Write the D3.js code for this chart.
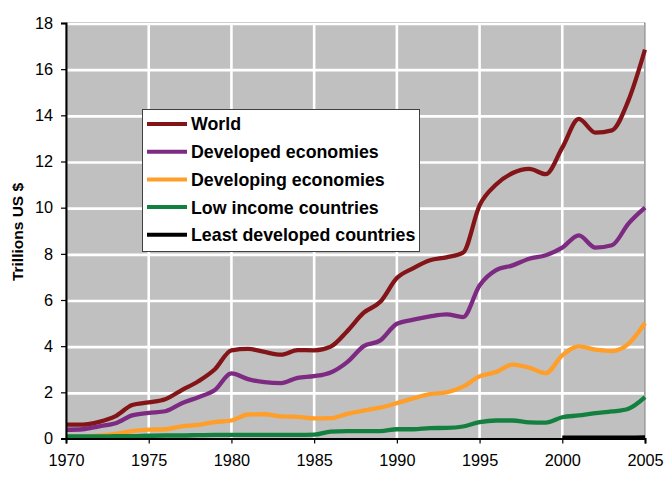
<!DOCTYPE html>
<html>
<head>
<meta charset="utf-8">
<script src="https://cdn.jsdelivr.net/npm/d3@7"></script>
<style>
  html, body { margin: 0; padding: 0; background: #ffffff; }
  svg { display: block; }
  text { font-family: Arial, "Liberation Sans", sans-serif; }
</style>
</head>
<body>
<svg id="chart" width="666" height="489"></svg>
<script>
// ---- Data ----
const years = [1970,1971,1972,1973,1974,1975,1976,1977,1978,1979,
               1980,1981,1982,1983,1984,1985,1986,1987,1988,1989,
               1990,1991,1992,1993,1994,1995,1996,1997,1998,1999,
               2000,2001,2002,2003,2004,2005];

const world = [0.60,0.60,0.72,0.97,1.45,1.57,1.70,2.10,2.48,3.00,
               3.82,3.88,3.75,3.63,3.83,3.82,3.98,4.65,5.45,5.92,
               6.95,7.38,7.72,7.85,8.05,10.10,11.00,11.50,11.68,11.45,
               12.60,13.85,13.25,13.35,14.65,16.85];

const developed = [0.38,0.40,0.53,0.66,1.00,1.11,1.18,1.53,1.79,2.10,
                   2.82,2.57,2.44,2.40,2.63,2.70,2.86,3.31,4.00,4.25,
                   4.97,5.15,5.29,5.38,5.26,6.63,7.29,7.50,7.79,7.94,
                   8.27,8.80,8.27,8.37,9.31,10.00];

const developing = [0.07,0.08,0.12,0.20,0.32,0.38,0.40,0.53,0.59,0.71,
                    0.78,1.04,1.05,0.96,0.94,0.87,0.88,1.07,1.21,1.34,
                    1.53,1.74,1.92,2.00,2.25,2.69,2.88,3.20,3.07,2.83,
                    3.60,3.99,3.85,3.79,4.10,5.00];

const lowIncome = [0.09,0.09,0.09,0.10,0.10,0.12,0.13,0.13,0.15,0.16,
                   0.16,0.16,0.16,0.16,0.16,0.17,0.30,0.32,0.32,0.32,
                   0.40,0.40,0.45,0.46,0.52,0.71,0.78,0.78,0.70,0.69,
                   0.92,1.00,1.10,1.17,1.29,1.79];

const leastDeveloped = [null,null,null,null,null,null,null,null,null,null,
                        null,null,null,null,null,null,null,null,null,null,
                        null,null,null,null,null,null,null,null,null,null,
                        0.04,0.04,0.04,0.04,0.04,0.05];

const seriesNames = ["World","Developed economies","Developing economies","Low income countries","Least developed countries"];
const seriesColors = ["#831417","#7D2A82","#FF9E28","#13803F","#000000"];
const seriesValues = [world, developed, developing, lowIncome, leastDeveloped];

const yTicks = [0,2,4,6,8,10,12,14,16,18];
const xTicks = [1970,1975,1980,1985,1990,1995,2000,2005];
const yTitle = "Trillions US $";

// ---- Layout ----
const svg = d3.select("#chart");
const pL = 66, pR = 645, pT = 23, pB = 438.5;

const x = d3.scaleLinear().domain([1970, 2005]).range([pL, pR]);
const y = d3.scaleLinear().domain([0, 18]).range([pB, pT]);

// plot background
svg.append("rect")
  .attr("x", pL).attr("y", pT)
  .attr("width", pR - pL).attr("height", pB - pT)
  .attr("fill", "#C0C0C0")
  .attr("stroke", "#808080").attr("stroke-width", 1);

// gridlines
const grid = svg.append("g");
grid.selectAll("line.h").data(yTicks.filter(d => d > 0)).join("line")
  .attr("x1", pL).attr("x2", pR - 1)
  .attr("y1", d => y(d) + 1).attr("y2", d => y(d) + 1)
  .attr("stroke", "#ffffff").attr("stroke-width", 2.6);
grid.selectAll("line.v").data(xTicks.filter(d => d > 1970 && d < 2005)).join("line")
  .attr("x1", d => x(d)).attr("x2", d => x(d))
  .attr("y1", pT + 1).attr("y2", pB)
  .attr("stroke", "#ffffff").attr("stroke-width", 2.6);

// clip
svg.append("clipPath").attr("id", "clip")
  .append("rect").attr("x", pL).attr("y", pT)
  .attr("width", pR - pL + 2).attr("height", pB - pT);

// lines
const lineGen = d3.line()
  .defined(d => d[1] !== null)
  .x(d => x(d[0]))
  .y(d => y(d[1]))
  .curve(d3.curveMonotoneX);

const linesG = svg.append("g").attr("clip-path", "url(#clip)");
seriesValues.forEach((vals, i) => {
  const pts = years.map((yr, j) => [yr, vals[j]]);
  linesG.append("path")
    .attr("d", lineGen(pts))
    .attr("fill", "none")
    .attr("stroke", seriesColors[i])
    .attr("stroke-width", 4.3)
    .attr("stroke-linejoin", "round")
    .attr("stroke-linecap", "butt");
});

// axes
const yAxis = d3.axisLeft(y).tickValues(yTicks).tickSize(5).tickPadding(6).tickFormat(d3.format("d"));
const xAxis = d3.axisBottom(x).tickValues(xTicks).tickSize(5).tickPadding(11).tickFormat(d3.format("d"));

const gy = svg.append("g").attr("transform", `translate(${pL},0)`).call(yAxis);
const gx = svg.append("g").attr("transform", `translate(0,${pB})`).call(xAxis);

[gy, gx].forEach(g => {
  g.select(".domain").attr("stroke", "#000").attr("stroke-width", 2);
  g.selectAll(".tick line").attr("stroke", "#000").attr("stroke-width", 1.2);
  g.selectAll(".tick text")
    .attr("fill", "#000")
    .style("font-size", "16.3px")
    .style("font-family", "Arial, 'Liberation Sans', sans-serif");
});
gy.selectAll(".tick text").attr("x", -13);

// y title
svg.append("text")
  .attr("transform", `translate(23,232) rotate(-90)`)
  .attr("text-anchor", "middle")
  .style("font-size", "15.5px")
  .style("font-weight", "bold")
  .attr("fill", "#000")
  .text(yTitle);

// legend
const lg = svg.append("g");
lg.append("rect")
  .attr("x", 142.5).attr("y", 109.5)
  .attr("width", 277).attr("height", 142)
  .attr("fill", "#ffffff")
  .attr("stroke", "#404040").attr("stroke-width", 1);

seriesNames.forEach((name, i) => {
  const cy = 124 + i * 27.7;
  lg.append("line")
    .attr("x1", 147).attr("x2", 187)
    .attr("y1", cy).attr("y2", cy)
    .attr("stroke", seriesColors[i]).attr("stroke-width", 4);
  lg.append("text")
    .attr("x", 191).attr("y", cy)
    .attr("dy", "0.36em")
    .style("font-size", "17.8px")
    .style("font-weight", "bold")
    .attr("fill", "#000")
    .text(name);
});
</script>
</body>
</html>
